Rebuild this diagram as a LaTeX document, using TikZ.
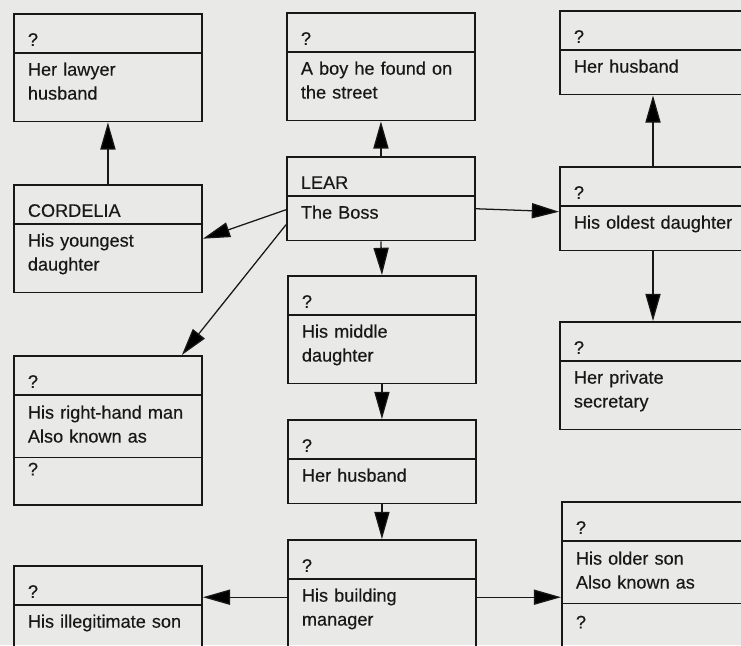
\documentclass[tikz,border=0pt]{standalone}
\usepackage{fontspec}
\setmainfont{Liberation Sans}
\newfontfamily\cardfont{Liberation Sans}[FakeBold=0.35]
\usetikzlibrary{shapes.multipart,arrows.meta}
\newdimen\pxu \pxu=0.025cm
\newcommand\topgap[1]{\rule{0pt}{#1\pxu}}
\newcommand\botgap[1]{\rule[-#1\pxu]{0pt}{#1\pxu}}
\newcommand\head[1]{\topgap{31}#1\botgap{6}}
\definecolor{paper}{RGB}{233,233,231}
\definecolor{ink}{RGB}{24,24,24}
\begin{document}
\begin{tikzpicture}[x=0.025cm, y=-0.025cm,
  card/.style={rectangle split, rectangle split parts=2, draw=ink, line width=1.3pt,
    anchor=north west, text width=4cm, inner xsep=0.35cm, inner ysep=0pt,
    align=left, text=ink, font=\cardfont\fontsize{12.9}{17}\selectfont},
  card3/.style={card, rectangle split parts=3},
  wide/.style={text width=4.4cm},
  link/.style={draw=ink, line width=0.9pt, -{Triangle[length=0.68cm,width=0.38cm]}}]
\fill[paper] (0,0) rectangle (741,645);
\clip (0,0) rectangle (741,645);
% left column
\node[card] (lawyer) at (13,13) {\head{?}\nodepart{two}\topgap{22}Her lawyer\\husband\botgap{21}};
\node[card] (cordelia) at (13,184) {\head{CORDELIA}\nodepart{two}\topgap{22}His youngest\\daughter\botgap{21}};
\node[card3] (righthand) at (13,355) {\head{?}\nodepart{two}\topgap{23}His right-hand man\\Also known as\botgap{14}\nodepart{three}\topgap{17}?\botgap{29}};
\node[card] (illegit) at (13,565) {\head{?}\nodepart{two}\topgap{22}His illegitimate son\botgap{22}};
% middle column
\node[card] (boy) at (286,12) {\head{?}\nodepart{two}\topgap{22}A boy he found on\\the street\botgap{21}};
\node[card] (lear) at (286,156) {\head{LEAR}\nodepart{two}\topgap{22}The Boss\botgap{21}};
\node[card] (middle) at (287,275) {\head{?}\nodepart{two}\topgap{22}His middle\\daughter\botgap{21}};
\node[card] (midhusband) at (287,419) {\head{?}\nodepart{two}\topgap{22}Her husband\botgap{21}};
\node[card] (manager) at (287,539) {\head{?}\nodepart{two}\topgap{22}His building\\manager\botgap{20}};
% right column, cut off by the page edge
\node[card,wide] (husband) at (559,10) {\head{?}\nodepart{two}\topgap{22}Her husband\botgap{21}};
\node[card,wide] (oldest) at (559,166) {\head{?}\nodepart{two}\topgap{22}His oldest daughter\botgap{21}};
\node[card,wide] (secretary) at (559,321) {\head{?}\nodepart{two}\topgap{22}Her private\\secretary\botgap{21}};
\node[card3,wide] (olderson) at (561,501) {\head{?}\nodepart{two}\topgap{23}His older son\\Also known as\botgap{14}\nodepart{three}\topgap{24}?\botgap{20}};
\coordinate (mgr) at ([shift={(0,4)}]manager.center);
\coordinate (rcol) at ([shift={(94,0)}]oldest.north west);
\draw[link] (cordelia.north) -- (lawyer.south);
\draw[link] (lear.north) -- (boy.south);
\draw[link] ([shift={(0,11)}]lear.west) -- (cordelia.east);
\draw[link] ([shift={(0,26)}]lear.west) -- ([shift={(-21,0)}]righthand.north east);
\draw[link] ([shift={(0,10)}]lear.east) -- ([shift={(0,3)}]oldest.west);
\draw[link] (rcol |- oldest.north) -- (rcol |- husband.south);
\draw[link] (rcol |- oldest.south) -- (rcol |- secretary.north);
\draw[link] (lear.south) -- (middle.north);
\draw[link] (middle.south) -- (midhusband.north);
\draw[link] (midhusband.south) -- (manager.north);
\draw[link] (mgr -| manager.west) -- (mgr -| illegit.east);
\draw[link] (mgr -| manager.east) -- (mgr -| olderson.west);
\end{tikzpicture}
\end{document}
